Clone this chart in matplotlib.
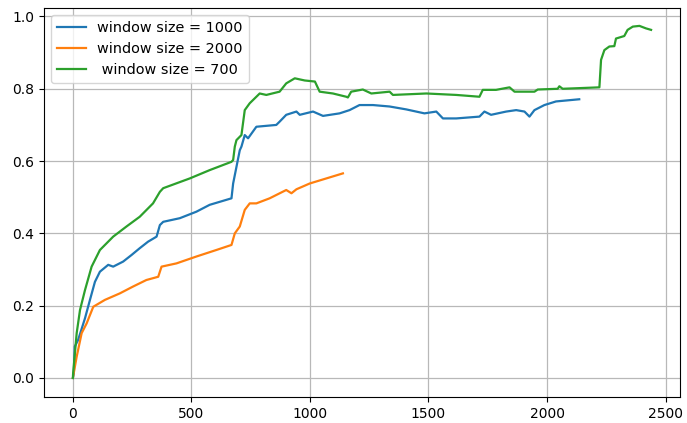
import matplotlib
matplotlib.use("Agg")
import matplotlib.pyplot as plt

# window size = 1000
x_1000 = [0, 4, 8, 22, 51, 72, 93, 114, 149, 170, 212, 247, 282, 317, 353, 367, 381, 451, 521, 577,
          669, 676, 690, 704, 711, 725, 739, 774, 858, 872, 900, 943, 957, 1013, 1055, 1125, 1167, 1209,
          1266, 1336, 1406, 1483, 1533, 1561, 1617, 1715, 1736, 1764, 1828, 1870, 1905, 1926, 1947,
          1989, 2038, 2136]
y_1000 = [0, 0.014, 0.087, 0.105, 0.165, 0.216, 0.266, 0.294, 0.313, 0.308, 0.322, 0.34, 0.359, 0.377,
          0.391, 0.423, 0.432, 0.442, 0.46, 0.479, 0.497, 0.538, 0.584, 0.63, 0.64, 0.672, 0.663, 0.695,
          0.70, 0.709, 0.728, 0.737, 0.728, 0.737, 0.725, 0.732, 0.741, 0.755, 0.755, 0.751, 0.743,
          0.732, 0.737, 0.718, 0.718, 0.723, 0.737, 0.728, 0.737, 0.741, 0.737, 0.723, 0.741, 0.755,
          0.765, 0.771]

# window size = 2000
x_2000 = [0, 1, 16, 37, 58, 86, 135, 198, 254, 310, 360, 374, 437, 521, 605, 669, 683, 704, 725, 746,
          774, 830, 900, 922, 943, 999, 1069, 1139]
y_2000 = [0, 0.004, 0.059, 0.124, 0.151, 0.197, 0.216, 0.234, 0.253, 0.271, 0.28, 0.308, 0.317, 0.336,
          0.354, 0.368, 0.40, 0.419, 0.465, 0.483, 0.483, 0.497, 0.52, 0.511, 0.522, 0.538, 0.552, 0.566]

# window size = 700
x_700 = [0, 1, 16, 30, 51, 79, 114, 170, 226, 282, 338, 367, 381, 493, 577, 669, 676, 683, 690, 711,
         725, 746, 788, 816, 872, 900, 936, 978, 1021, 1041, 1097, 1153, 1160, 1174, 1223, 1259, 1336,
         1350, 1491, 1617, 1715, 1729, 1785, 1842, 1863, 1947, 1961, 2045, 2052, 2066, 2221, 2228,
         2242, 2263, 2284, 2291, 2326, 2340, 2362, 2390, 2418, 2439]
y_700 = [0, 0.013, 0.124, 0.188, 0.243, 0.308, 0.354, 0.391, 0.419, 0.446, 0.483, 0.515, 0.525, 0.552,
         0.575, 0.598, 0.603, 0.64, 0.658, 0.672, 0.741, 0.76, 0.787, 0.783, 0.792, 0.815, 0.829, 0.823,
         0.82, 0.792, 0.787, 0.778, 0.776, 0.792, 0.798, 0.787, 0.792, 0.783, 0.787, 0.783, 0.778,
         0.797, 0.797, 0.804, 0.792, 0.792, 0.798, 0.80, 0.807, 0.80, 0.804, 0.88, 0.907, 0.917, 0.918,
         0.939, 0.946, 0.963, 0.972, 0.974, 0.967, 0.963]

fig = plt.figure(figsize=(6.87, 4.23), dpi=100)
ax = fig.add_axes([0.064, 0.0615, 0.9258, 0.9196])

ax.plot(x_1000, y_1000, color='#1f77b4', linewidth=1.6, label='window size = 1000')
ax.plot(x_2000, y_2000, color='#ff7f0e', linewidth=1.6, label='window size = 2000')
ax.plot(x_700, y_700, color='#2ca02c', linewidth=1.6, label=' window size = 700')

ax.set_xlim(-122, 2561)
ax.set_ylim(-0.0526, 1.0235)
ax.set_xticks([0, 500, 1000, 1500, 2000, 2500])
ax.set_yticks([0.0, 0.2, 0.4, 0.6, 0.8, 1.0])
ax.tick_params(labelsize=10)
ax.grid(True, color='#b8b8b8', linewidth=0.9)
ax.legend(loc='upper left', fontsize=10.4)

fig.savefig('out.png', dpi=100)
